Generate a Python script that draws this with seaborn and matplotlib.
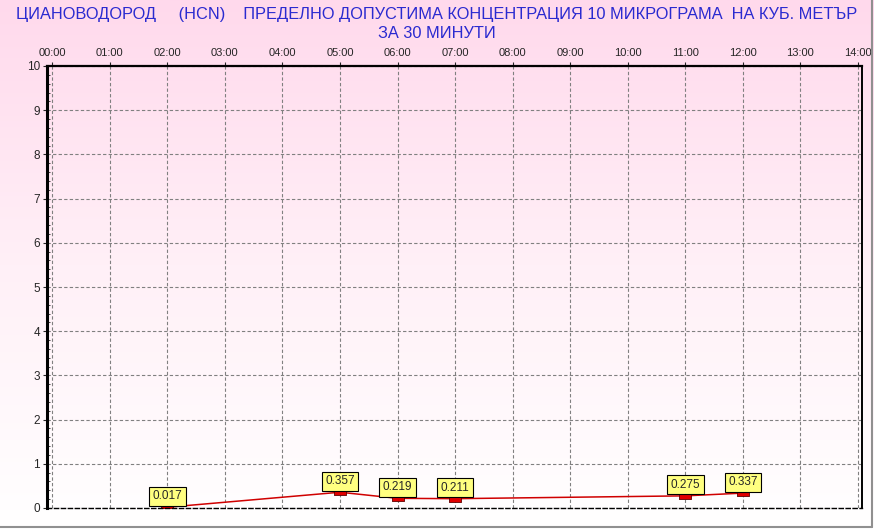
import numpy as np
import pandas as pd
import matplotlib
matplotlib.use('Agg')
import matplotlib.pyplot as plt
import seaborn as sns
from matplotlib.lines import Line2D

# data
hours = [2, 5, 6, 7, 11, 12]
values = [0.017, 0.357, 0.219, 0.211, 0.275, 0.337]
hour_labels = ['%02d:00' % h for h in range(15)]
title = 'ЦИАНОВОДОРОД     (HCN)    ПРЕДЕЛНО ДОПУСТИМА КОНЦЕНТРАЦИЯ 10 МИКРОГРАМА  НА КУБ. МЕТЪР\nЗА 30 МИНУТИ'

df = pd.DataFrame({'hour': hours, 'value': values})

sns.set_style('white')
plt.rcParams['font.family'] = ['Liberation Sans', 'DejaVu Sans']

fig = plt.figure(figsize=(8.74, 5.29), dpi=100)

# pink to white gradient behind everything
bg = fig.add_axes([0, 0, 1, 1], zorder=-10)
grad = np.linspace(0, 1, 256).reshape(-1, 1)
cmap = matplotlib.colors.LinearSegmentedColormap.from_list('pw', ['#ffffff', '#fff0f7', '#ffd9ec'])
bg.imshow(grad, aspect='auto', cmap=cmap, origin='lower', extent=[0, 1, 0, 1])
bg.axis('off')

ax = fig.add_axes([47 / 874, 21 / 529, 815 / 874, 442 / 529])
ax.patch.set_alpha(0)

sns.lineplot(data=df, x='hour', y='value', ax=ax, color='#d00000', linewidth=1.1)
rect = [(-2, -1), (2, -1), (2, 1), (-2, 1), (-2, -1)]
ax.plot(df['hour'], df['value'], linestyle='none', marker=rect, markersize=8,
        markerfacecolor='#e00000', markeredgecolor='#600000', markeredgewidth=0.6)

for h, v in zip(hours, values):
    ax.annotate('%.3f' % v, (h, v), xytext=(0, 5), textcoords='offset pixels',
                ha='center', va='bottom', fontsize=8.5,
                bbox=dict(boxstyle='square,pad=0.3', fc='#ffff80', ec='black', lw=0.8))

ax.set_xlim(-0.09, 14.07)
ax.set_ylim(0, 10)
ax.set_xticks(range(15))
ax.set_xticklabels(hour_labels)
ax.set_yticks(range(11))
ax.set_yticks(np.arange(0, 10, 0.2), minor=True)
ax.xaxis.tick_top()
ax.tick_params(axis='x', which='major', top=True, bottom=False, length=3, labelsize=8, pad=3)
ax.tick_params(axis='y', which='major', left=True, length=3, labelsize=8.5, pad=2)
ax.tick_params(axis='y', which='minor', left=True, direction='in', length=2, width=0.6)
ax.set_xlabel('')
ax.set_ylabel('')
ax.grid(True, which='major', linestyle=(0, (3, 2)), color='#808080', linewidth=0.8)

ax.spines['left'].set_linewidth(2.2)
ax.spines['top'].set_linewidth(1.6)
ax.spines['right'].set_linewidth(1.4)
ax.spines['bottom'].set_linestyle((0, (3, 2)))
ax.spines['bottom'].set_linewidth(1)
for s in ax.spines.values():
    s.set_color('black')

fig.text(0.5, 1 - 24 / 529, title, ha='center', va='center', fontsize=11.8,
         color='#2a2ad0', linespacing=1.25)

# window-like gray border on right and bottom
fig.add_artist(Line2D([0, 872 / 874], [2 / 529, 2 / 529], color='#909090', lw=1.5, transform=fig.transFigure))
fig.add_artist(Line2D([872 / 874, 872 / 874], [2 / 529, 1], color='#909090', lw=1.5, transform=fig.transFigure))

fig.savefig('out.png', dpi=100)
